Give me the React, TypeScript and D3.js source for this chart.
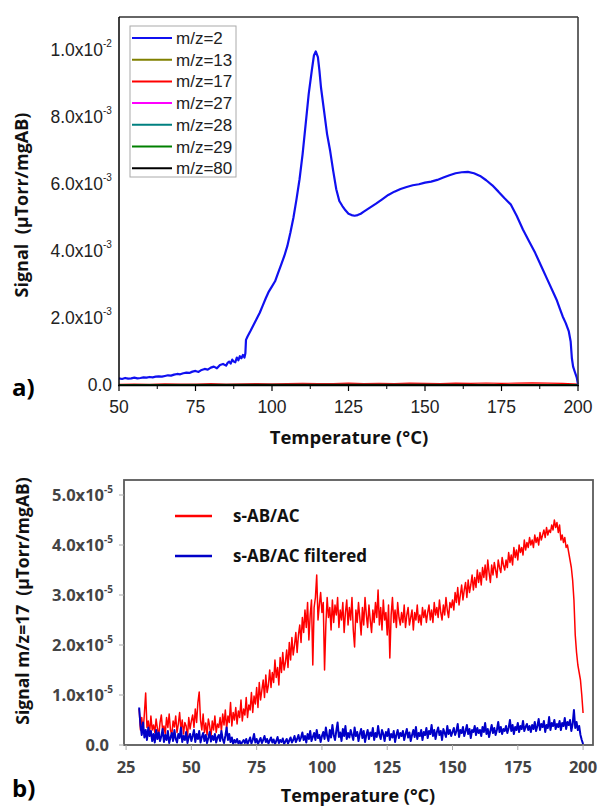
import React from "react";
import * as d3 from "d3";

// ---------- Panel a) data (signal in 1e-3 µTorr/mgAB) ----------
const tempA = [
  50, 51, 52, 53, 54, 55, 56, 57, 58, 59, 60, 61, 62, 63, 64, 65, 66, 67, 68, 69, 70,
  71, 72, 73, 74, 75, 76, 77, 78, 79, 80, 81, 82, 83, 84, 85, 85.5, 86, 86.5, 87, 87.5,
  88, 88.5, 89, 89.5, 90, 90.5, 91, 91.3, 91.5, 92, 93, 94, 95, 96, 97, 98, 99, 100,
  101, 102, 103, 104, 105, 106, 107, 108, 109, 110, 111, 112, 113, 113.7, 114.3, 115,
  115.5, 116, 117, 118, 119, 120, 121, 122, 123, 124, 125, 126, 127, 128, 129, 130, 132,
  134, 136, 138, 140, 142, 144, 146, 148, 150, 152, 154, 156, 158, 160, 162, 164, 166,
  168, 170, 172, 174, 176, 178, 180, 182, 184, 186, 188, 190, 192, 193, 194, 195, 196,
  197, 197.6, 198, 198.4, 199, 199.6, 200,
];
const mz2 = [
  0.2, 0.18, 0.21, 0.19, 0.2, 0.22, 0.2, 0.21, 0.23, 0.22, 0.24, 0.23, 0.25, 0.26, 0.25,
  0.27, 0.29, 0.28, 0.31, 0.33, 0.32, 0.35, 0.37, 0.36, 0.4, 0.42, 0.39, 0.45, 0.48, 0.46,
  0.52, 0.55, 0.5, 0.6, 0.63, 0.58, 0.66, 0.7, 0.64, 0.76, 0.7, 0.68, 0.82, 0.74, 0.86,
  0.8, 0.9, 0.82, 0.95, 1.35, 1.45, 1.62, 1.8, 1.98, 2.16, 2.38, 2.6, 2.8, 2.95, 3.1,
  3.35, 3.6, 3.85, 4.15, 4.55, 5.0, 5.55, 6.15, 6.9, 7.8, 8.7, 9.4, 9.85, 9.97, 9.8, 9.4,
  8.9, 8.2, 7.5, 7.0, 6.4, 5.85, 5.5, 5.35, 5.22, 5.12, 5.08, 5.06, 5.08, 5.12, 5.18, 5.3,
  5.42, 5.55, 5.68, 5.78, 5.86, 5.92, 5.97, 6.0, 6.05, 6.08, 6.13, 6.2, 6.27, 6.33, 6.36,
  6.37, 6.33, 6.25, 6.12, 5.97, 5.78, 5.58, 5.4, 5.05, 4.65, 4.3, 3.95, 3.55, 3.15, 2.75,
  2.55, 2.3, 2.05, 1.85, 1.6, 1.3, 0.8, 0.55, 0.38, 0.22, 0.02,
];
const tempMinor = [
  50, 55, 60, 65, 70, 75, 80, 85, 90, 95, 100, 105, 110, 115, 120, 125, 130, 135, 140, 145,
  150, 155, 160, 165, 170, 175, 180, 185, 190, 195, 200,
];
const mz17 = [
  0.02, 0.03, 0.02, 0.035, 0.025, 0.03, 0.04, 0.03, 0.035, 0.045, 0.035, 0.04, 0.05, 0.04,
  0.045, 0.055, 0.045, 0.05, 0.04, 0.055, 0.05, 0.045, 0.055, 0.05, 0.06, 0.05, 0.055,
  0.065, 0.055, 0.05, 0.03,
];
const tempFlat = [50, 100, 150, 200];
const mz13 = [0.01, 0.015, 0.02, 0.01];
const mz27 = [0.005, 0.01, 0.01, 0.005];
const mz28 = [0.01, 0.02, 0.02, 0.01];
const mz29 = [0.005, 0.01, 0.015, 0.005];
const mz80 = [0.0, 0.005, 0.005, 0.0];

const seriesA = [
  { label: "m/z=2", color: "#1010f0", temps: tempA, values: mz2 },
  { label: "m/z=13", color: "#808000", temps: tempFlat, values: mz13 },
  { label: "m/z=17", color: "#ff0000", temps: tempMinor, values: mz17 },
  { label: "m/z=27", color: "#ff00ff", temps: tempFlat, values: mz27 },
  { label: "m/z=28", color: "#008080", temps: tempFlat, values: mz28 },
  { label: "m/z=29", color: "#008000", temps: tempFlat, values: mz29 },
  { label: "m/z=80", color: "#000000", temps: tempFlat, values: mz80 },
];
const ticksAX = [50, 75, 100, 125, 150, 175, 200];
const ticksAY = [
  { v: 0, m: "0.0", e: "" },
  { v: 2, m: "2.0x10", e: "-3" },
  { v: 4, m: "4.0x10", e: "-3" },
  { v: 6, m: "6.0x10", e: "-3" },
  { v: 8, m: "8.0x10", e: "-3" },
  { v: 10, m: "1.0x10", e: "-2" },
];

// ---------- Panel b) data (signal in 1e-5 µTorr/mgAB), T from 30 °C step 0.5 °C ----------
const tempStartB = 30;
const tempStepB = 0.5;
const redB = [
  // 30 - 35
  0.72, 0.3, 0.55, 0.25, 0.62, 1.04, 0.35, 0.48, 0.22, 0.58, 0.3,
  // 35.5 - 50
  0.4, 0.25, 0.52, 0.33, 0.18, 0.45, 0.6, 0.28, 0.38, 0.22, 0.55, 0.35, 0.62, 0.3, 0.2,
  0.48, 0.36, 0.58, 0.25, 0.42, 0.65, 0.3, 0.5, 0.22, 0.45, 0.38, 0.15, 0.55, 0.32, 0.48,
  // 50.5 - 60
  0.6, 0.35, 0.72, 0.45, 0.85, 1.06, 0.5, 0.3, 0.62, 0.25, 0.44, 0.2, 0.52, 0.38, 0.15,
  0.48, 0.3, 0.58, 0.25, 0.42,
  // 60.5 - 70
  0.35, 0.55, 0.28, 0.62, 0.4, 0.7, 0.32, 0.58, 0.45, 0.85, 0.38, 0.65, 0.5, 0.75, 0.42,
  0.68, 0.55, 0.9, 0.48, 0.72,
  // 70.5 - 80
  0.6, 0.95, 0.55, 0.8, 0.7, 1.05, 0.65, 0.98, 0.82, 1.15, 0.75, 1.25, 0.9, 1.1, 1.3, 0.95,
  1.4, 1.05, 1.2, 1.5,
  // 80.5 - 90
  1.15, 1.45, 1.25, 1.7, 1.35, 1.55, 1.2, 1.75, 1.45, 1.85, 1.5, 1.65, 1.9, 1.55, 2.05, 1.7,
  2.15, 1.8, 2.0, 2.25,
  // 90.5 - 100
  1.85, 2.2, 2.4, 2.05, 2.55, 2.25, 2.7, 2.35, 2.85, 2.1, 2.6, 2.9, 1.6, 2.75, 2.95, 3.4,
  2.5, 2.8, 3.05, 2.65,
  // 100.5 - 110
  2.85, 1.5, 2.4, 2.95, 2.55, 2.75, 2.3, 2.9, 2.45, 2.8, 2.6, 2.95, 2.35, 2.7, 2.5, 2.85,
  2.25, 2.65, 2.9, 2.4,
  // 110.5 - 120
  2.75, 2.5, 2.95, 2.3, 1.96, 2.7, 2.45, 2.85, 2.55, 2.2, 2.75, 2.4, 2.95, 2.6, 2.35, 2.8,
  2.5, 2.25, 2.7, 2.45,
  // 120.5 - 130
  2.85, 2.55, 3.1, 2.4, 2.75, 2.3, 2.9, 2.5, 2.65, 2.2, 2.8, 1.74, 2.6, 2.95, 2.45, 2.7,
  2.35, 2.85, 2.55, 2.4,
  // 130.5 - 140
  2.65, 2.45, 2.8, 2.35, 2.6, 2.75, 2.4, 2.55, 2.7, 2.3, 2.65, 2.5, 2.8, 2.45, 2.6, 2.4,
  2.75, 2.55, 2.7, 2.45,
  // 140.5 - 150
  2.65, 2.8, 2.5, 2.7, 2.45, 2.85, 2.6, 2.75, 2.55, 2.9, 2.65, 2.5, 2.8, 2.6, 2.95, 2.7,
  2.55, 2.85, 2.75, 2.9,
  // 150.5 - 160
  2.7, 3.05, 2.85, 3.15, 2.8, 3.0, 3.2, 2.9, 3.1, 3.25, 2.95, 3.3, 3.05, 3.2, 3.4, 3.1,
  3.35, 3.15, 3.5, 3.25,
  // 160.5 - 170
  3.45, 3.2, 3.55, 3.35, 3.6, 3.3, 3.7, 3.45, 3.25, 3.6, 3.4, 3.65, 3.5, 3.35, 3.7, 3.55,
  3.45, 3.75, 3.6, 3.5,
  // 170.5 - 180
  3.7, 3.55, 3.85, 3.65, 3.8, 3.6, 3.95, 3.75, 3.9, 3.7, 4.0, 3.85, 3.95, 3.8, 4.1, 3.9,
  4.05, 3.95, 4.15, 4.0,
  // 180.5 - 190
  4.1, 3.95, 4.2, 4.05, 4.15, 4.0, 4.25, 4.1, 4.2, 4.3, 4.15, 4.35, 4.2, 4.3, 4.25, 4.4,
  4.3, 4.5, 4.35, 4.45,
  // 190.5 - 200
  4.25, 4.4, 4.1, 4.2, 4.05, 4.15, 3.95, 4.0, 3.85, 3.7, 3.55, 3.3, 2.9, 2.2, 1.85, 1.6,
  1.45, 1.3, 1.0, 0.64,
];
const blueB = [
  // 30 - 35
  0.75, 0.4, 0.2, 0.45, 0.15, 0.3, 0.1, 0.35, 0.18, 0.28, 0.08,
  // 35.5 - 50
  0.22, 0.05, 0.3, 0.12, 0.25, 0.08, 0.18, 0.32, 0.06, 0.2, 0.1, 0.28, 0.04, 0.15, 0.24,
  0.08, 0.3, 0.12, 0.05, 0.22, 0.14, 0.35, 0.06, 0.18, 0.1, 0.26, 0.04, 0.16, 0.22, 0.08,
  // 50.5 - 60
  0.18, 0.3, 0.06, 0.22, 0.12, 0.28, 0.05, 0.16, 0.24, 0.08, 0.2, 0.04, 0.14, 0.26, 0.07,
  0.18, 0.1, 0.22, 0.05, 0.15,
  // 60.5 - 70
  0.2, 0.08, 0.28, 0.12, 0.04, 0.18, 0.35, 0.1, 0.22, 0.06, 0.15, 0.02, 0.1, 0.05, 0.12,
  0.03, 0.08, 0.01, 0.06, 0.1,
  // 70.5 - 80
  0.04, 0.12, 0.02, 0.08, 0.15, 0.03, 0.1, 0.22, 0.05, 0.12, 0.02, 0.08, 0.14, 0.04, 0.1,
  0.18, 0.06, 0.12, 0.03, 0.09,
  // 80.5 - 90
  0.15, 0.05, 0.11, 0.02, 0.08, 0.16, 0.04, 0.1, 0.06, 0.13, 0.02, 0.07, 0.12, 0.03, 0.09,
  0.15, 0.05, 0.1, 0.18, 0.06,
  // 90.5 - 100
  0.12, 0.2, 0.08, 0.15, 0.25, 0.1, 0.18, 0.05, 0.22, 0.12, 0.28, 0.08, 0.16, 0.24, 0.1,
  0.3, 0.14, 0.2, 0.06, 0.18,
  // 100.5 - 110
  0.26, 0.12, 0.35, 0.18, 0.08, 0.3, 0.15, 0.4, 0.2, 0.1, 0.28, 0.45, 0.16, 0.25, 0.08,
  0.32, 0.18, 0.38, 0.12, 0.24,
  // 110.5 - 120
  0.15, 0.3, 0.2, 0.1, 0.35, 0.18, 0.26, 0.08, 0.22, 0.32, 0.14, 0.28, 0.06, 0.2, 0.3,
  0.12, 0.25, 0.18, 0.34, 0.1,
  // 120.5 - 130
  0.24, 0.16, 0.38, 0.2, 0.12, 0.3, 0.22, 0.08, 0.26, 0.18, 0.32, 0.1, 0.22, 0.15, 0.28,
  0.06, 0.2, 0.3, 0.14, 0.24,
  // 130.5 - 140
  0.18, 0.28, 0.1, 0.22, 0.32, 0.15, 0.25, 0.08, 0.2, 0.3, 0.16, 0.36, 0.12, 0.24, 0.18,
  0.3, 0.1, 0.26, 0.2, 0.34,
  // 140.5 - 150
  0.14, 0.28, 0.22, 0.4, 0.18, 0.3, 0.12, 0.26, 0.35, 0.2, 0.28, 0.1, 0.32, 0.24, 0.16,
  0.38, 0.22, 0.3, 0.18, 0.26,
  // 150.5 - 160
  0.34, 0.2, 0.28, 0.42, 0.16, 0.3, 0.24, 0.36, 0.18, 0.28, 0.4, 0.22, 0.32, 0.14, 0.3,
  0.26, 0.38, 0.2, 0.34, 0.24,
  // 160.5 - 170
  0.3, 0.18, 0.36, 0.26, 0.44, 0.22, 0.32, 0.16, 0.28, 0.4, 0.24, 0.34, 0.2, 0.3, 0.46,
  0.26, 0.36, 0.22, 0.32, 0.28,
  // 170.5 - 180
  0.38, 0.24, 0.34, 0.5, 0.28, 0.4, 0.22, 0.36, 0.3, 0.44, 0.26, 0.38, 0.32, 0.48, 0.28,
  0.36, 0.42, 0.3, 0.38, 0.26,
  // 180.5 - 190
  0.4, 0.32, 0.46, 0.28, 0.38, 0.52, 0.3, 0.42, 0.36, 0.48, 0.26, 0.4, 0.34, 0.56, 0.3,
  0.44, 0.38, 0.5, 0.32, 0.42,
  // 190.5 - 200
  0.36, 0.48, 0.3, 0.44, 0.38, 0.54, 0.32, 0.46, 0.4, 0.5, 0.28, 0.42, 0.7, 0.34, 0.46,
  0.3, 0.38, 0.2, 0.1, 0.02,
];
const ticksBX = [25, 50, 75, 100, 125, 150, 175, 200];
const ticksBY = [
  { v: 0, m: "0.0", e: "" },
  { v: 1, m: "1.0x10", e: "-5" },
  { v: 2, m: "2.0x10", e: "-5" },
  { v: 3, m: "3.0x10", e: "-5" },
  { v: 4, m: "4.0x10", e: "-5" },
  { v: 5, m: "5.0x10", e: "-5" },
];
const legendB = [
  { label: "s-AB/AC", color: "#ff0000" },
  { label: "s-AB/AC filtered", color: "#0000c8" },
];

const ARIAL = "'Liberation Sans', Arial, sans-serif";
const BOLD = "'Open Sans', Lato, sans-serif";

export default function App() {
  // Panel a scales
  const xA = d3.scaleLinear().domain([50, 200]).range([119, 578]);
  const yA = d3.scaleLinear().domain([0, 11]).range([385, 17]);
  const lineA = (temps: number[], vals: number[]) =>
    d3
      .line<number>()
      .x((_, i) => xA(temps[i]))
      .y((d) => yA(d))(vals) || "";
  const minorAX = d3.range(62.5, 200, 25);

  // Panel b scales
  const xB = d3.scaleLinear().domain([24.2, 203.8]).range([124, 593]);
  const yB = d3.scaleLinear().domain([0, 5.3]).range([745, 480]);
  const lineB = (vals: number[]) =>
    d3
      .line<number>()
      .x((_, i) => xB(tempStartB + i * tempStepB))
      .y((d) => yB(d))(vals) || "";

  return (
    <div style={{ position: "absolute", left: 0, top: 0 }}>
      <svg width={598} height={810} style={{ display: "block", background: "#fff" }}>
        {/* ================= Panel a ================= */}
        <g>
          {seriesA.slice(1).map((s) => (
            <path key={s.label} d={lineA(s.temps, s.values)} fill="none" stroke={s.color} strokeWidth={1.2} />
          ))}
          <path d={lineA(tempA, mz2)} fill="none" stroke={seriesA[0].color} strokeWidth={2.2} strokeLinejoin="round" />
          {/* frame */}
          <line x1={119} x2={578} y1={17} y2={17} stroke="#333" strokeWidth={1.5} />
          <line x1={578} x2={578} y1={17} y2={385} stroke="#333" strokeWidth={1.5} />
          <line x1={119} x2={119} y1={17} y2={386} stroke="#000" strokeWidth={1.5} />
          <line x1={118} x2={579} y1={385.5} y2={385.5} stroke="#000" strokeWidth={1.5} />
          {ticksAX.map((t) => (
            <g key={t}>
              <line x1={xA(t)} x2={xA(t)} y1={385} y2={391} stroke="#000" strokeWidth={1.2} />
              <text x={xA(t)} y={413} textAnchor="middle" fontFamily={ARIAL} fontSize={17.5} fill="#222">
                {t}
              </text>
            </g>
          ))}
          {minorAX.map((t) => (
            <line key={t} x1={xA(t)} x2={xA(t)} y1={385} y2={389} stroke="#000" strokeWidth={1} />
          ))}
          {ticksAY.map((t) => (
            <text key={t.v} x={t.e ? 103 : 112} y={yA(t.v) + 6} textAnchor="end" fontFamily={ARIAL} fontSize={17.5} fill="#222">
              {t.m}
            </text>
          ))}
          {ticksAY
            .filter((t) => t.e)
            .map((t) => (
              <text key={"e" + t.v} x={103} y={yA(t.v) - 3} fontFamily={ARIAL} fontSize={10} fill="#222">
                {t.e}
              </text>
            ))}
          {/* legend */}
          <rect x={130} y={26} width={106} height={151} fill="#fff" stroke="#aaa" strokeWidth={1} />
          {seriesA.map((s, i) => (
            <g key={s.label}>
              <line x1={132} x2={172} y1={38 + i * 21.7} y2={38 + i * 21.7} stroke={s.color} strokeWidth={2} />
              <text x={176} y={38 + i * 21.7 + 6} fontFamily={ARIAL} fontSize={17} fill="#222">
                {s.label}
              </text>
            </g>
          ))}
          <text x={349} y={444} textAnchor="middle" fontFamily={BOLD} fontWeight={700} fontSize={18.5} fill="#111">
            Temperature (°C)
          </text>
          <text
            transform="translate(28,205) rotate(-90)"
            textAnchor="middle"
            fontFamily={BOLD}
            fontWeight={700}
            fontSize={18}
            fill="#111"
            style={{ whiteSpace: "pre" }}
          >
            {"Signal  (µTorr/mgAB)"}
          </text>
          <text x={12} y={396} fontFamily={BOLD} fontWeight={700} fontSize={24} fill="#000">
            a)
          </text>
        </g>

        {/* ================= Panel b ================= */}
        <g>
          <path d={lineB(redB)} fill="none" stroke="#ff0000" strokeWidth={1.5} strokeLinejoin="round" />
          <path d={lineB(blueB)} fill="none" stroke="#0000c8" strokeWidth={2} strokeLinejoin="round" />
          <rect x={124} y={480} width={469} height={265} fill="none" stroke="#5a5a5a" strokeWidth={1.8} />
          {ticksBX.map((t) => (
            <g key={t}>
              <line x1={xB(t)} x2={xB(t)} y1={745} y2={750} stroke="#aaa" strokeWidth={1} />
              <text x={xB(t)} y={773} textAnchor="middle" fontFamily={BOLD} fontWeight={700} fontSize={16.5} fill="#444">
                {t}
              </text>
            </g>
          ))}
          {ticksBY.map((t) => (
            <g key={t.v}>
              <line x1={119} x2={124} y1={yB(t.v)} y2={yB(t.v)} stroke="#aaa" strokeWidth={1} />
              <text x={t.e ? 104 : 109} y={yB(t.v) + 6} textAnchor="end" fontFamily={BOLD} fontWeight={700} fontSize={16.5} fill="#444">
                {t.m}
              </text>
              {t.e && (
                <text x={104} y={yB(t.v) - 2} fontFamily={BOLD} fontWeight={700} fontSize={10} fill="#444">
                  {t.e}
                </text>
              )}
            </g>
          ))}
          {legendB.map((l, i) => (
            <g key={l.label}>
              <line x1={175} x2={212} y1={516 + i * 40} y2={516 + i * 40} stroke={l.color} strokeWidth={2.5} />
              <text x={233} y={516 + i * 40 + 6} fontFamily={BOLD} fontWeight={700} fontSize={17} fill="#111">
                {l.label}
              </text>
            </g>
          ))}
          <text x={358} y={802} textAnchor="middle" fontFamily={BOLD} fontWeight={700} fontSize={18} fill="#111">
            Temperature (°C)
          </text>
          <text
            transform="translate(29,601) rotate(-90)"
            textAnchor="middle"
            fontFamily={BOLD}
            fontWeight={700}
            fontSize={17.5}
            fill="#111"
            style={{ whiteSpace: "pre" }}
          >
            {"Signal m/z=17  (µTorr/mgAB)"}
          </text>
          <text x={12} y={797} fontFamily={BOLD} fontWeight={700} fontSize={24} fill="#000">
            b)
          </text>
        </g>
      </svg>
    </div>
  );
}
